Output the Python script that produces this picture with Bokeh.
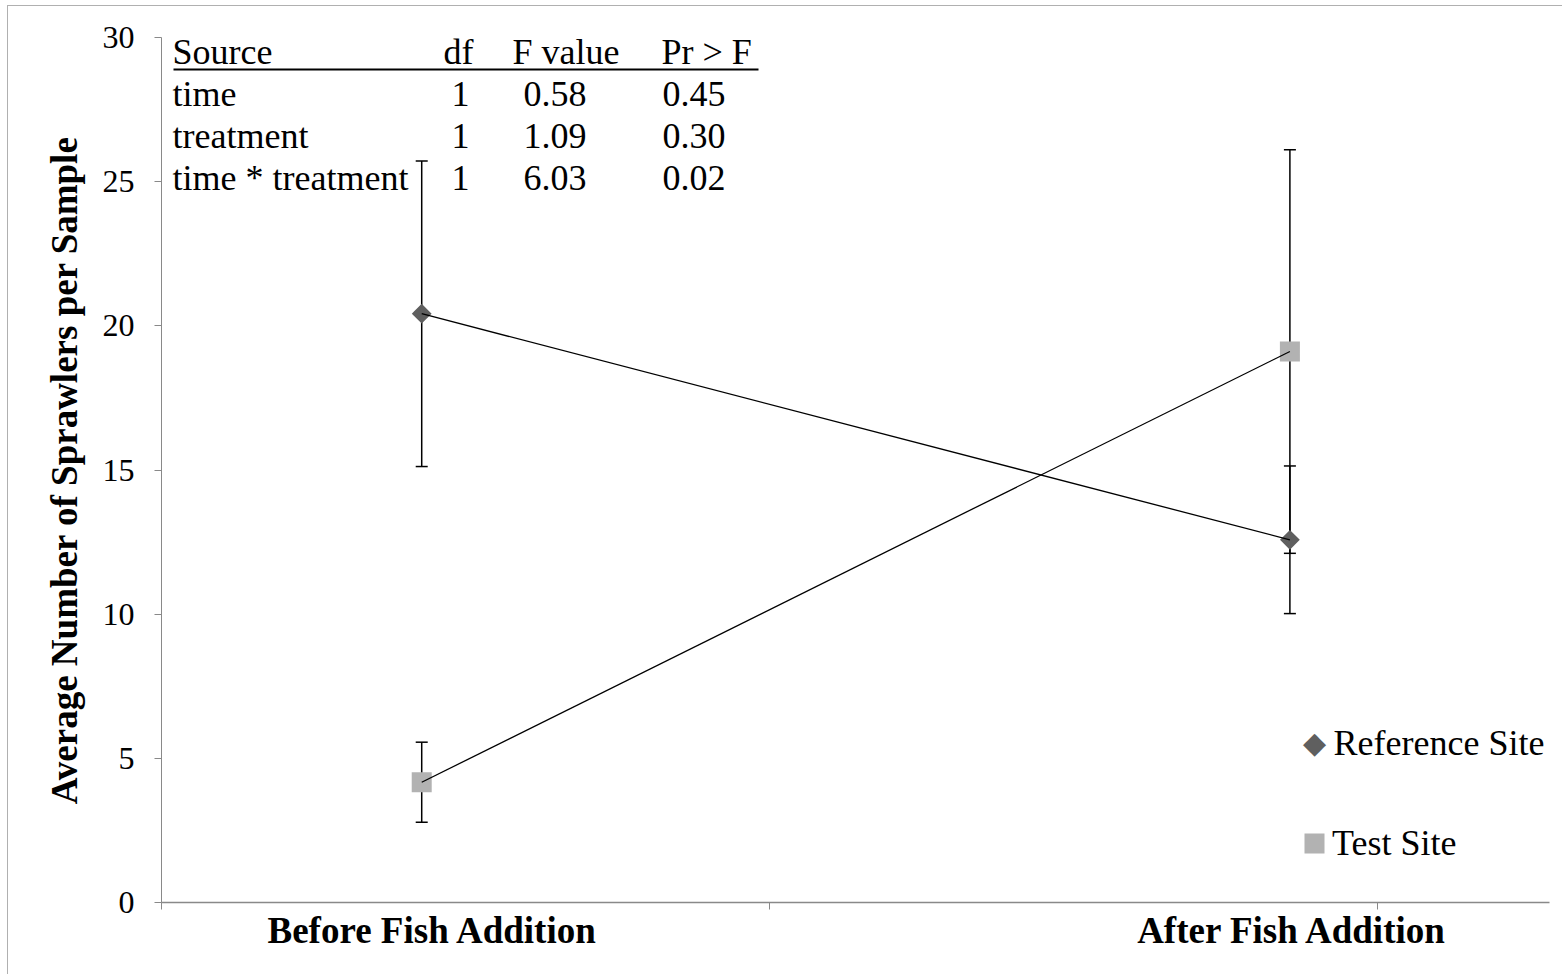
import numpy as np
from bokeh.plotting import figure
from bokeh.models import (Range1d, FixedTicker, Whisker, TeeHead, ColumnDataSource,
                          Label, Legend, LegendItem, BoxAnnotation)
from bokeh.embed import file_html
from bokeh.resources import INLINE

# ---- data ----
categories = ["Before Fish Addition", "After Fish Addition"]
x_pos = [0.428, 1.856]
ref_mean = [20.42, 12.58]
ref_err = [5.30, 2.56]
test_mean = [4.17, 19.11]
test_err = [1.39, 7.00]
y_ticks = [0, 5, 10, 15, 20, 25, 30]

series_names = ["Reference Site", "Test Site"]
table_header = ["Source", "df", "F value", "Pr > F"]
table_source = ["time", "treatment", "time * treatment"]
table_df = ["1", "1", "1"]
table_f = ["0.58", "1.09", "6.03"]
table_p = ["0.45", "0.30", "0.02"]

# ---- layout constants ----
label_x = [0.446, 1.860]
boundary_ticks = [0, 1, 2]
SERIF = "Liberation Serif"
AXIS_GRAY = "#898989"
REF_COLOR = "#5f5f5f"
TEST_COLOR = "#b2b2b2"

p = figure(width=1555, height=969, x_range=Range1d(0, 2.283), y_range=Range1d(0, 30),
           output_backend="svg", toolbar_location=None,
           min_border_left=153, min_border_right=14, min_border_top=31, min_border_bottom=73)
p.styles = {"border-left": "1px solid #b0b0b0", "border-top": "1px solid #b0b0b0",
            "margin-left": "7px", "margin-top": "5px"}
p.outline_line_color = None
p.grid.visible = False
p.background_fill_color = "white"
p.border_fill_color = "white"

# y axis
ya = p.yaxis[0]
ya.ticker = FixedTicker(ticks=y_ticks, minor_ticks=[])
ya.major_tick_out = 7
ya.major_tick_in = 0
ya.minor_tick_out = 0
ya.minor_tick_in = 0
ya.axis_line_color = AXIS_GRAY
ya.major_tick_line_color = AXIS_GRAY
ya.major_label_text_font = SERIF
ya.major_label_text_font_size = "32px"
ya.major_label_text_color = "black"
ya.major_label_standoff = 20
ya.axis_label = "Average Number of Sprawlers per Sample"
ya.axis_label_text_font = SERIF
ya.axis_label_text_font_style = "bold"
ya.axis_label_text_font_size = "37px"
ya.axis_label_text_color = "black"
ya.axis_label_standoff = 15

# x axis
xa = p.xaxis[0]
xa.ticker = FixedTicker(ticks=label_x, minor_ticks=boundary_ticks)
xa.major_tick_out = 0
xa.major_tick_in = 0
xa.minor_tick_out = 7
xa.minor_tick_in = 0
xa.minor_tick_line_color = AXIS_GRAY
xa.axis_line_color = AXIS_GRAY
xa.axis_line_width = 1.5
xa.major_label_overrides = {label_x[i]: categories[i] for i in range(len(categories))}
xa.major_label_text_font = SERIF
xa.major_label_text_font_style = "bold"
xa.major_label_text_font_size = "37px"
xa.major_label_text_color = "black"
xa.major_label_standoff = 0

# error bars
for means, errs in ((ref_mean, ref_err), (test_mean, test_err)):
    src = ColumnDataSource(dict(
        x=x_pos,
        upper=[m + e for m, e in zip(means, errs)],
        lower=[m - e for m, e in zip(means, errs)]))
    w = Whisker(base="x", upper="upper", lower="lower", source=src, dimension="height",
                line_color="black", line_width=1.5,
                upper_head=TeeHead(size=12, line_color="black", line_width=1.5),
                lower_head=TeeHead(size=12, line_color="black", line_width=1.5))
    p.add_layout(w)

# markers
ref_r = p.scatter(x_pos, ref_mean, marker="square", angle=np.pi / 4, size=8, line_width=6,
                  fill_color=REF_COLOR, line_color=REF_COLOR, line_join="miter")
test_r = p.scatter(x_pos, test_mean, marker="square", size=12, line_width=8,
                   fill_color=TEST_COLOR, line_color=TEST_COLOR, line_join="miter")
# connecting lines
p.line(x_pos, ref_mean, line_color="black", line_width=1.3)
p.line(x_pos, test_mean, line_color="black", line_width=1.3)

# legend: Test Site via Legend, Reference Site (rotated marker) via labels
leg2 = Legend(items=[LegendItem(label=series_names[1], renderers=[test_r])],
              location=(1138, 38), glyph_width=30, glyph_height=30, label_standoff=3,
              label_text_font=SERIF, label_text_font_size="36px", label_text_color="black",
              border_line_color=None, background_fill_alpha=0, padding=0, margin=0,
              label_height=20)
p.add_layout(leg2)
p.add_layout(Label(x=1153, y=160, x_units="screen", y_units="screen", text="\u25C6",
                   text_font="DejaVu Sans", text_font_size="30px", text_color=REF_COLOR,
                   text_align="center", text_baseline="middle"))
p.add_layout(Label(x=1172, y=160, x_units="screen", y_units="screen", text=series_names[0],
                   text_font=SERIF, text_font_size="36px", text_color="black",
                   text_baseline="alphabetic"))

# ANOVA table (frame-relative screen coordinates)
col_x = [11, 282, 351, 500]
val_x = [11, 290, 362, 501]
header_y = 851
row_y = [809, 767, 725]
for cx, txt in zip(col_x, table_header):
    p.add_layout(Label(x=cx, y=header_y, x_units="screen", y_units="screen", text=txt,
                       text_font=SERIF, text_font_size="36px", text_color="black",
                       text_baseline="alphabetic"))
for i in range(len(table_source)):
    for cx, col in zip(val_x, (table_source, table_df, table_f, table_p)):
        p.add_layout(Label(x=cx, y=row_y[i], x_units="screen", y_units="screen", text=col[i],
                           text_font=SERIF, text_font_size="36px", text_color="black",
                           text_baseline="alphabetic"))
p.add_layout(BoxAnnotation(left=12, right=597, bottom=832, top=834,
                           left_units="screen", right_units="screen",
                           bottom_units="screen", top_units="screen",
                           fill_color="black", fill_alpha=1, line_color=None))

open("out.html", "w").write(file_html(p, INLINE))
